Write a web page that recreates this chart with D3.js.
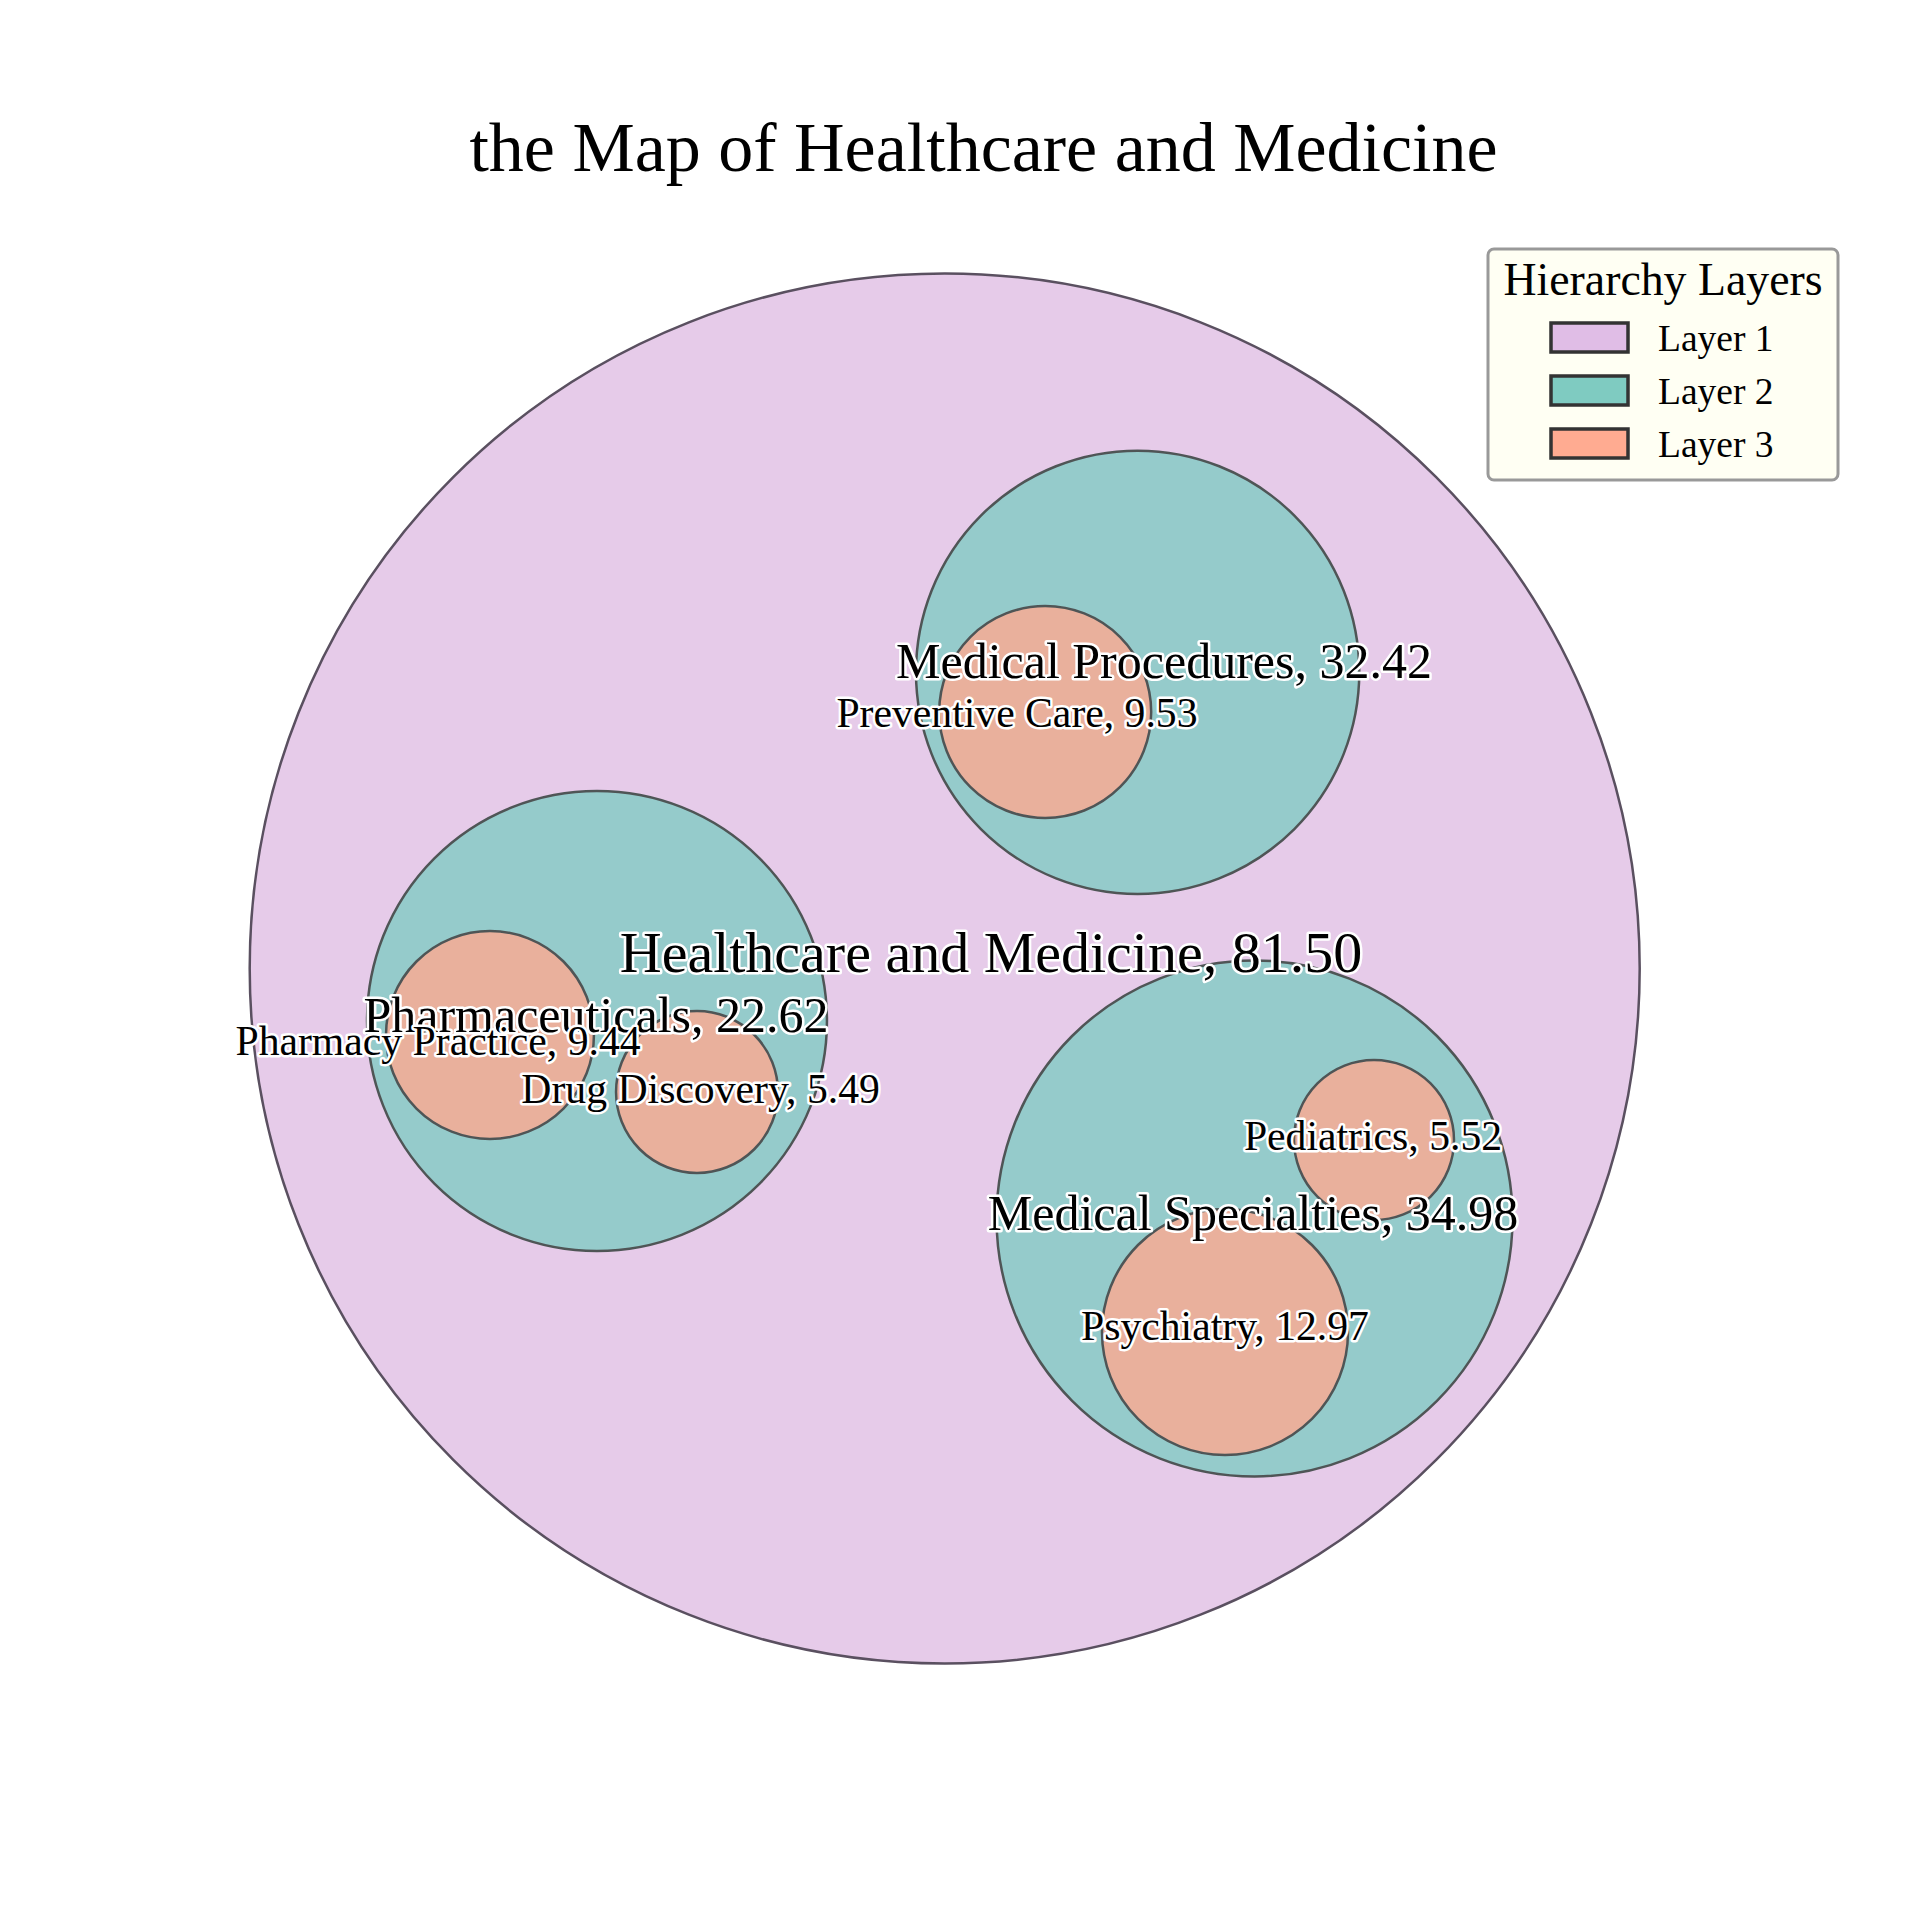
<!DOCTYPE html>
<html><head><meta charset="utf-8">
<script src="https://cdn.jsdelivr.net/npm/d3@7"></script>
<style>body{margin:0;background:#fff}svg{display:block}</style>
</head><body>
<script>
// ---- data ----
const names = ["Healthcare and Medicine","Medical Procedures","Preventive Care","Pharmaceuticals","Pharmacy Practice","Drug Discovery","Medical Specialties","Pediatrics","Psychiatry"];
const values = [81.50, 32.42, 9.53, 22.62, 9.44, 5.49, 34.98, 5.52, 12.97];
const levels = [1, 2, 3, 2, 3, 3, 2, 3, 3];
// packed layout in unit-circle coordinates (root circle = radius 1)
const cx = [0, 0.2776, 0.1446, -0.5003, -0.6543, -0.3564, 0.4458, 0.6177, 0.4033];
const cy = [0, 0.4262, 0.3691, -0.0755, -0.0957, -0.1777, -0.3596, -0.2468, -0.5230];
const cr = [1, 0.3189, 0.1525, 0.3309, 0.1496, 0.1165, 0.3712, 0.1151, 0.1770];
// label anchors (unit-circle coordinates, text baseline)
const lx = [0.0666, 0.3155, 0.104, -0.5017, -0.729, -0.3512, 0.4436, 0.6163, 0.4033];
const ly = [-0.0050, 0.418, 0.3475, -0.0914, -0.1245, -0.1935, -0.3763, -0.2612, -0.5345];
const layerNames = ["Layer 1","Layer 2","Layer 3"];
const title = "the Map of Healthcare and Medicine";
const legendTitle = "Hierarchy Layers";

// ---- styles ----
const fillCol = {1:"#e6cbe9", 2:"#95cbcb", 3:"#e9b09c"};
const legendCol = ["#e0bde6","#7fcbc1","#ffab91"];
const fontSize = {1:58, 2:50, 3:41.7};

const W = 1920, H = 1920;
const svg = d3.select("body").append("svg").attr("width", W).attr("height", H);
const font = "'Liberation Serif','Times New Roman',serif";

const R = 695, X0 = 944.7, Y0 = 968.5;
const x = d3.scaleLinear().domain([-1, 1]).range([X0 - R, X0 + R]);
const y = d3.scaleLinear().domain([-1, 1]).range([Y0 + R, Y0 - R]);
const rs = d3.scaleLinear().domain([0, 1]).range([0, R]);

const nodes = names.map((n, i) => ({name: n, value: values[i], level: levels[i], x: cx[i], y: cy[i], r: cr[i], lx: lx[i], ly: ly[i]}));

svg.append("g").selectAll("circle").data(nodes).join("circle")
  .attr("cx", d => x(d.x)).attr("cy", d => y(d.y)).attr("r", d => rs(d.r))
  .attr("fill", d => fillCol[d.level])
  .attr("stroke", d => d.level === 1 ? "#5a5060" : "#4f5556")
  .attr("stroke-width", 2.5);

svg.append("g").selectAll("text").data(nodes).join("text")
  .attr("x", d => x(d.lx)).attr("y", d => y(d.ly))
  .attr("text-anchor", "middle")
  .attr("font-family", font)
  .attr("font-size", d => fontSize[d.level])
  .attr("fill", "#000")
  .attr("stroke", "#fff").attr("stroke-width", 5).attr("stroke-linejoin", "round")
  .attr("paint-order", "stroke")
  .text(d => `${d.name}, ${d.value.toFixed(2)}`);

svg.append("text").attr("x", 983.5).attr("y", 171).attr("text-anchor", "middle")
  .attr("font-family", font).attr("font-size", 70).attr("fill", "#000").text(title);

// ---- legend ----
const lg = svg.append("g");
lg.append("rect").attr("x", 1488).attr("y", 249).attr("width", 350).attr("height", 231).attr("rx", 6)
  .attr("fill", "#fffff3").attr("stroke", "#999").attr("stroke-width", 3);
lg.append("text").attr("x", 1663).attr("y", 295).attr("text-anchor", "middle")
  .attr("font-family", font).attr("font-size", 45.8).attr("fill", "#000").text(legendTitle);
const rowY = d3.scalePoint().domain(layerNames).range([323, 429]);
const rows = lg.selectAll("g.row").data(layerNames).join("g").attr("class", "row");
rows.append("rect").attr("x", 1551).attr("y", d => rowY(d)).attr("width", 77).attr("height", 29)
  .attr("fill", (d, i) => legendCol[i]).attr("stroke", "#333").attr("stroke-width", 3.5);
rows.append("text").attr("x", 1658).attr("y", d => rowY(d) + 28)
  .attr("font-family", font).attr("font-size", 37.5).attr("fill", "#000").text(d => d);
</script>
</body></html>
